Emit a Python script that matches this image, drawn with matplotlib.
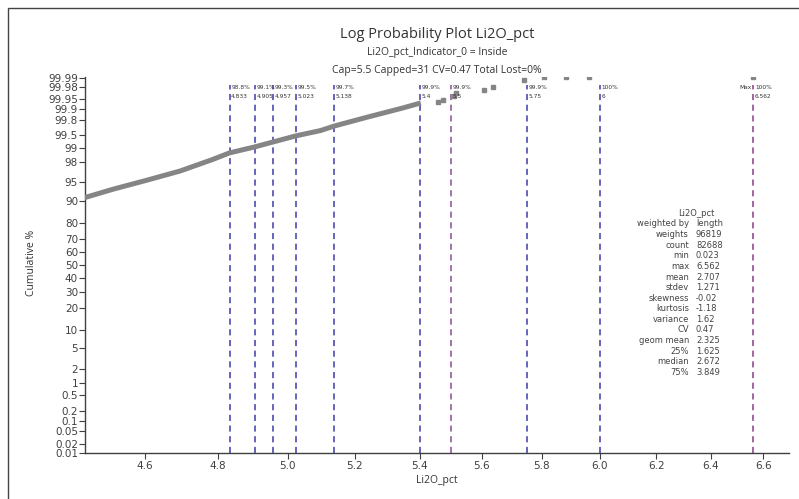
import matplotlib
matplotlib.use("Agg")
import matplotlib.pyplot as plt
from matplotlib.patches import Rectangle
from statistics import NormalDist
import numpy as np

nd = NormalDist()

# cumulative curve (value, cumulative %)
curve_x = [4.436, 4.515, 4.605, 4.695, 4.786, 4.833, 4.905, 4.957, 5.023, 5.097, 5.138, 5.239, 5.341, 5.404]
curve_p = [90.8, 93.4, 95.4, 96.9, 98.2, 98.7, 99.05, 99.27, 99.48, 99.62, 99.71, 99.834, 99.905, 99.935]
# sparse tail points
tail_x = [5.458, 5.474, 5.509, 5.516, 5.607, 5.636, 5.740, 5.807, 5.882, 5.962, 6.562]
tail_p = [99.94, 99.947, 99.96, 99.968, 99.974, 99.979, 99.988, 99.9905, 99.9905, 99.9905, 99.9905]

# percentile marker lines
line_x = [4.833, 4.905, 4.957, 5.023, 5.138, 5.4, 5.5, 5.75, 6.0, 6.562]
line_pct = ["98.8%", "99.1%", "99.3%", "99.5%", "99.7%", "99.9%", "99.9%", "99.9%", "100%", "100%"]
line_val = ["4.833", "4.905", "4.957", "5.023", "5.138", "5.4", "5.5", "5.75", "6", "6.562"]
line_kind = ["p", "p", "p", "p", "p", "p", "cap", "p", "p", "max"]

ytick_p = [0.01, 0.02, 0.05, 0.1, 0.2, 0.5, 1, 2, 5, 10, 20, 30, 40, 50, 60, 70, 80, 90,
           95, 98, 99, 99.5, 99.8, 99.9, 99.95, 99.98, 99.99]
ytick_lab = ["0.01", "0.02", "0.05", "0.1", "0.2", "0.5", "1", "2", "5", "10", "20", "30", "40",
             "50", "60", "70", "80", "90", "95", "98", "99", "99.5", "99.8", "99.9", "99.95",
             "99.98", "99.99"]
xticks = [4.6, 4.8, 5.0, 5.2, 5.4, 5.6, 5.8, 6.0, 6.2, 6.4, 6.6]

stat_names = ["weighted by", "weights", "count", "min", "max", "mean", "stdev", "skewness",
              "kurtosis", "variance", "CV", "geom mean", "25%", "median", "75%"]
stat_vals = ["length", "96819", "82688", "0.023", "6.562", "2.707", "1.271", "-0.02",
             "-1.18", "1.62", "0.47", "2.325", "1.625", "2.672", "3.849"]

W, H = 799, 499
fig = plt.figure(figsize=(W / 100, H / 100), dpi=100)
ax = fig.add_axes([85 / W, (H - 453) / H, (789 - 85) / W, (453 - 77) / H])

def z(p):
    return [nd.inv_cdf(v / 100) for v in p]

ax.plot(curve_x, z(curve_p), color="#858585", lw=3.6, solid_capstyle="butt",
        solid_joinstyle="round", zorder=3)
ax.plot(tail_x, z(tail_p), ls="none", marker="s", ms=3, color="#858585", zorder=3)

tr = ax.get_xaxis_transform()
colors = {"p": "#3a3aa8", "cap": "#8a4a9a", "max": "#8a3a8a"}
for x, pc, v, k in zip(line_x, line_pct, line_val, line_kind):
    ax.plot([x, x], [0, 0.979], transform=tr, color=colors[k], lw=1.1,
            dashes=(4, 3), zorder=2)
    ax.annotate(pc, (x, 0.971), xycoords=tr, xytext=(1.2, 0), textcoords="offset points",
                fontsize=4.2, color="#333333", va="center", ha="left")
    ax.annotate(v, (x, 0.947), xycoords=tr, xytext=(1.2, 0), textcoords="offset points",
                fontsize=4.2, color="#333333", va="center", ha="left")
    if k == "max":
        ax.annotate("Max", (x, 0.973), xycoords=tr, xytext=(-1.5, 0),
                    textcoords="offset points", fontsize=4.2, color="#333333",
                    va="center", ha="right")

ax.set_xscale("log")
ax.set_xlim(4.442, 6.70)
ax.set_xticks(xticks)
ax.set_xticklabels([f"{t:.1f}" for t in xticks])
ax.xaxis.set_minor_locator(matplotlib.ticker.NullLocator())
ax.set_ylim(nd.inv_cdf(0.0001), 3.73)
ax.set_yticks(z(ytick_p))
ax.set_yticklabels(ytick_lab)

for s in ["top", "right"]:
    ax.spines[s].set_visible(False)
for s in ["left", "bottom"]:
    ax.spines[s].set_color("#404040")
    ax.spines[s].set_linewidth(1)
ax.tick_params(axis="y", labelsize=7.5, length=4, width=0.8, pad=1, colors="#404040",
               labelcolor="#404040")
ax.tick_params(axis="x", labelsize=7.5, length=4, width=0.8, pad=2, colors="#404040",
               labelcolor="#404040")

fig.text(437 / W, 1 - 35 / H, "Log Probability Plot Li2O_pct", ha="center", va="center",
         fontsize=10.5, family="Open Sans", color="#333333")
fig.text(437 / W, 1 - 53 / H, "Li2O_pct_Indicator_0 = Inside", ha="center", va="center",
         fontsize=7.5, family="Open Sans", color="#333333")
fig.text(437 / W, 1 - 70 / H, "Cap=5.5 Capped=31 CV=0.47 Total Lost=0%", ha="center",
         va="center", fontsize=7.5, family="Open Sans", color="#333333")
fig.text(31 / W, 1 - 263 / H, "Cumulative %", rotation=90, ha="center", va="center",
         fontsize=7.5, family="Open Sans", color="#333333")
fig.text(437 / W, 1 - 480 / H, "Li2O_pct", ha="center", va="center",
         fontsize=7.5, family="Open Sans", color="#333333")

fig.text(696 / W, 1 - 213 / H, "Li2O_pct", ha="center", va="center", fontsize=6,
         color="#444444")
for i, (n, v) in enumerate(zip(stat_names, stat_vals)):
    yy = 1 - (224 + i * 10.6) / H
    fig.text(689 / W, yy, n, ha="right", va="center", fontsize=6, color="#444444")
    fig.text(696 / W, yy, v, ha="left", va="center", fontsize=6, color="#444444")

fig.add_artist(Rectangle((8 / W, -0.1), 2, 1 - 8 / H + 0.1, transform=fig.transFigure,
                         fill=False, edgecolor="#444444", lw=1))

fig.savefig("out.png", dpi=100)
